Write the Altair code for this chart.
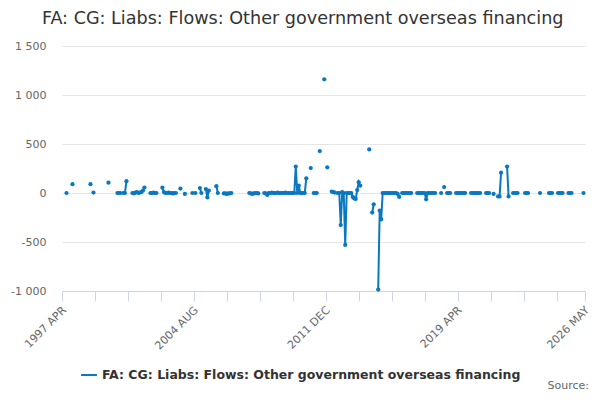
import altair as alt
import pandas as pd

# month offsets from 1997 APR, and values (£m)
months = [3, 7, 19, 21, 31,
          37, 38, 39, 41, 42, 43,
          47, 48, 49, 50, 51, 52, 53, 54, 55,
          59, 60, 61, 62, 63,
          67, 68, 69, 70, 71, 72, 73, 74, 75, 76,
          79, 82, 87, 89,
          92, 93, 96, 97, 98, 103, 104,
          108, 109, 110, 111, 112, 113,
          125, 126, 127, 128, 129, 130, 131,
          135, 136, 137, 138, 139, 140, 141, 142, 143, 144, 145, 146, 147, 148, 149, 150,
          151, 152, 153, 154, 155, 156, 157, 158, 159, 160, 161, 162, 163,
          166, 168, 169, 170, 172, 175, 177,
          180, 181, 182,
          184, 185, 186, 187, 188, 189, 190, 191, 192, 193, 194, 195, 196, 197, 198, 199,
          205, 207, 208,
          211, 212, 213, 214, 215, 216, 217, 218, 219, 220, 221, 222, 223, 224, 225,
          227, 228, 229, 230, 231, 232, 233,
          237, 238, 239, 240, 241, 242, 243, 244, 245, 246, 247, 248, 249,
          253, 255, 257, 258, 259,
          263, 264, 265, 266, 267, 268, 269,
          273, 274, 275, 276, 277, 278, 279,
          283, 284, 285, 288,
          291, 292, 293, 297, 298,
          301, 302, 303, 304,
          309, 310, 311, 319,
          325, 326, 327,
          331, 332, 333, 334,
          338, 339, 340, 348]
values = [0, 90, 90, 5, 105,
          0, 0, 0, 0, 0, 120,
          0, -5, 5, 10, 0, 5, 10, 25, 55,
          0, 0, 5, 0, 0,
          55, 10, 0, 0, 5, 0, 0, -5, 0, 0,
          45, -10, 0, 0,
          50, 0, 40, -45, 25, 70, 0,
          -5, -5, -10, -5, -5, 0,
          0, -5, -10, -5, 0, 0, -5,
          0, -5, -20, 0, 0, 5, 0, 0, 0, 5, 0, 0, 0, 0, 5, 0,
          0, 0, 0, 0, 0, 270, 0, 75, 0, 0, 0, 0, 150,
          255, 0, 0, 0, 428, 1160, 262,
          15, 10, 5,
          0, 0, -327, 10, 0, -530, 0, 0, 0, 0, -40, -55, -60, 30, 110, 75,
          445, -200, -115,
          -985, -180, -270, 0, 0, 0, 0, 0, 0, 0, 0, 0, 0, -10, -40,
          0, 0, 0, 0, 0, 0, 0,
          0, 0, 0, 0, 0, 0, -65, 0, 0, 0, 0, 0, 0,
          0, 60, 0, 0, 0,
          0, 0, 0, 0, 0, 0, 0,
          0, 0, 0, 0, 0, 0, 0,
          0, 0, 0, -10,
          -35, -35, 207, 270, -35,
          0, 0, 0, 0,
          0, 0, 0, 0,
          0, 0, 0,
          0, 0, 0, 0,
          0, 0, 0, 0]

tick_months = [0, 22, 44, 66, 88, 110, 132, 154, 176, 198, 220, 242, 264, 286, 308, 330, 349]
label_months = [0, 88, 176, 264, 349]
label_texts = ["1997 APR", "2004 AUG", "2011 DEC", "2019 APR", "2026 MAY"]
y_ticks = [-1000, -500, 0, 500, 1000, 1500]

series_name = "FA: CG: Liabs: Flows: Other government overseas financing"
title_text = "FA: CG: Liabs: Flows: Other government overseas financing"
source_text = "Source:"

# break the line wherever months are missing
segs = []
seg = 0
for i, m in enumerate(months):
    if i > 0 and m - months[i - 1] > 1:
        seg += 1
    segs.append(seg)

df = pd.DataFrame({"month": months, "value": values, "seg": segs, "series": series_name})

label_expr = "".join(
    f"datum.value == {m} ? '{t}' : " for m, t in zip(label_months, label_texts)
) + "''"

FONT = "DejaVu Sans"
BLUE = "#0a78c0"
W, H = 523, 245

x_enc = alt.X(
    "month:Q",
    scale=alt.Scale(domain=[0, 349], nice=False, zero=False),
    axis=alt.Axis(
        values=tick_months, labelExpr=label_expr, grid=False, title=None,
        domainColor="#ccd6eb", tickColor="#ccd6eb", tickSize=10,
        labelAngle=-45, labelColor="#666666", labelFontSize=11, labelFont=FONT,
        labelPadding=3, labelOffset=-2, labelOverlap=False, labelBound=False, labelFlush=False,
    ),
)
y_enc = alt.Y(
    "value:Q",
    scale=alt.Scale(domain=[-1000, 1500], nice=False),
    axis=alt.Axis(
        values=y_ticks, title=None, ticks=False, domain=False,
        gridColor="#e6e6e6", labelColor="#666666", labelFontSize=11, labelFont=FONT,
        labelPadding=16,
        labelExpr="(datum.value < 0 ? '-' : '') + replace(format(abs(datum.value), ','), ',', ' ')",
    ),
)

line = alt.Chart(df).mark_line(
    strokeWidth=2, point=alt.OverlayMarkDef(size=18, filled=True, opacity=1)
).encode(
    x=x_enc,
    y=y_enc,
    detail="seg:N",
    color=alt.Color(
        "series:N",
        scale=alt.Scale(range=[BLUE]),
        legend=alt.Legend(
            title=None, orient="none", legendX=18, legendY=320,
            labelFont=FONT, labelFontSize=12.5, labelFontWeight="bold",
            labelColor="#333333", symbolType="stroke", symbolStrokeWidth=2,
            symbolSize=250, labelLimit=600,
        ),
    ),
)

source = alt.Chart(pd.DataFrame({"t": [source_text]})).mark_text(
    align="right", baseline="alphabetic", font=FONT, fontSize=11, color="#666666"
).encode(text="t:N", x=alt.value(W + 4), y=alt.value(H + 98))

chart = alt.layer(line, source).properties(
    width=W, height=H,
    title=alt.Title(title_text, font=FONT, fontSize=17.6, fontWeight="normal",
                    color="#333333", anchor="middle", frame="bounds", offset=12, dx=2),
    padding={"left": 54, "top": 38, "right": 7, "bottom": 101},
    autosize=alt.AutoSizeParams(type="none"),
).configure_view(stroke=None)

chart.save("out.html", embed_options={"renderer": "svg", "actions": False})
